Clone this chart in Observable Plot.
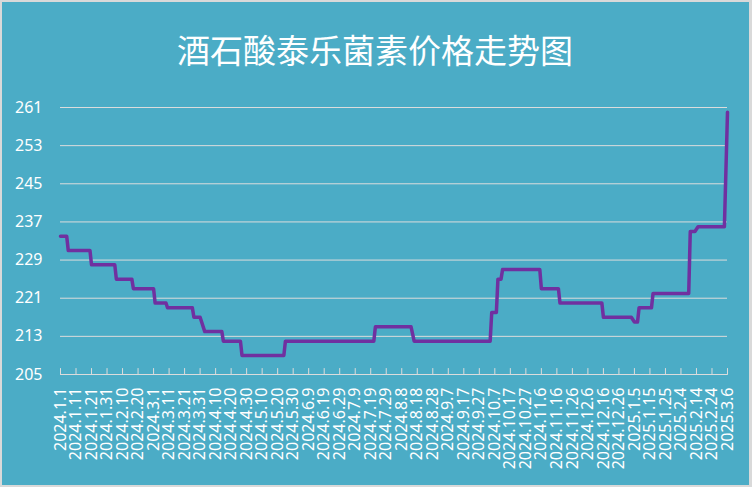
<!DOCTYPE html>
<html><head><meta charset="utf-8">
<script src="https://cdn.jsdelivr.net/npm/d3@7"></script>
<script src="https://cdn.jsdelivr.net/npm/@observablehq/plot@0.6"></script>
<style>
html,body{margin:0;padding:0;background:#fff;}
#wrap{position:relative;width:752px;height:487px;background:#d9d9d9;overflow:hidden;}
#inner{position:absolute;left:2px;top:2px;right:3px;bottom:2px;background:#4BACC6;}
#wrap svg{position:absolute;left:0;top:0;}
</style></head><body><div id="wrap"><div id="inner"></div></div>
<script>
const title = "酒石酸泰乐菌素价格走势图";
const dates = [
  "2024.1.1","2024.1.5","2024.1.6","2024.1.20","2024.1.21","2024.2.5","2024.2.6","2024.2.16","2024.2.17","2024.3.1",
  "2024.3.2","2024.3.9","2024.3.10","2024.3.26","2024.3.27","2024.3.31","2024.4.3","2024.4.14","2024.4.15","2024.4.26",
  "2024.4.27","2024.5.24","2024.5.25","2024.7.21","2024.7.22","2024.8.14","2024.8.16","2024.10.4","2024.10.5","2024.10.8",
  "2024.10.9","2024.10.11","2024.10.12","2024.11.5","2024.11.6","2024.11.17","2024.11.18","2024.12.15","2024.12.16","2025.1.3",
  "2025.1.5","2025.1.7","2025.1.8","2025.1.16","2025.1.17","2025.2.9","2025.2.10","2025.2.13","2025.2.15","2025.3.4",
  "2025.3.6"
];
const prices = [
  234,234,231,231,228,228,225,225,223,223,
  220,220,219,219,217,217,214,214,212,212,
  209,209,212,212,215,215,212,212,218,218,
  225,225,227,227,223,223,220,220,217,217,
  216,216,219,219,222,222,235,235,236,236,
  260
];
const yTicks = [205,213,221,229,237,245,253,261];
const xTickLabels = [
  "2024.1.1","2024.1.11","2024.1.21","2024.1.31","2024.2.10","2024.2.20","2024.3.1","2024.3.11","2024.3.21","2024.3.31",
  "2024.4.10","2024.4.20","2024.4.30","2024.5.10","2024.5.20","2024.5.30","2024.6.9","2024.6.19","2024.6.29","2024.7.9",
  "2024.7.19","2024.7.29","2024.8.8","2024.8.18","2024.8.28","2024.9.7","2024.9.17","2024.9.27","2024.10.7","2024.10.17",
  "2024.10.27","2024.11.6","2024.11.16","2024.11.26","2024.12.6","2024.12.16","2024.12.26","2025.1.5","2025.1.15","2025.1.25",
  "2025.2.4","2025.2.14","2025.2.24","2025.3.6"
];
const parse = s => { const [y,m,d] = s.split(".").map(Number); return new Date(Date.UTC(y, m-1, d)); };
const fmt = d => `${d.getUTCFullYear()}.${d.getUTCMonth()+1}.${d.getUTCDate()}`;
const series = dates.map((d,i) => ({date: parse(d), price: prices[i]}));
const xTicks = xTickLabels.map(parse);
const tickShape = {draw(ctx, l){ ctx.moveTo(0,0); ctx.lineTo(0,-l); }};
const chart = Plot.plot({
  width: 752, height: 487,
  marginLeft: 60, marginRight: 25, marginTop: 107, marginBottom: 113,
  style: {background: "transparent", color: "white", fontFamily: "'Noto Sans', sans-serif", overflow: "visible"},
  x: {type: "utc", domain: [xTicks[0], xTicks[xTicks.length-1]], label: null},
  y: {domain: [205, 261], label: null},
  marks: [
    Plot.gridY(yTicks.slice(1), {stroke: "#dcdcdc", strokeOpacity: 1}),
    Plot.ruleY([yTicks[0]], {stroke: "#dcdcdc"}),
    Plot.vector(xTicks, {x: d => d, y: () => yTicks[0], length: 6, anchor: "start", shape: tickShape, stroke: "#dcdcdc", strokeWidth: 1}),
    Plot.axisY({ticks: yTicks, tickSize: 0, tickPadding: 18, fontSize: 16, fill: "white"}),
    Plot.axisX({ticks: xTicks, tickFormat: fmt, tickRotate: -90, tickSize: 0, tickPadding: 13, fontSize: 16, fill: "white"}),
    Plot.line(series, {x: "date", y: "price", stroke: "#7030A0", strokeWidth: 3.5}),
    Plot.text([title], {text: d => d, frameAnchor: "top", dy: -68, dx: -19, fontSize: 33, fill: "white", fontFamily: "'Noto Sans CJK SC'"})
  ]
});
document.getElementById("wrap").appendChild(chart);
</script></body></html>
